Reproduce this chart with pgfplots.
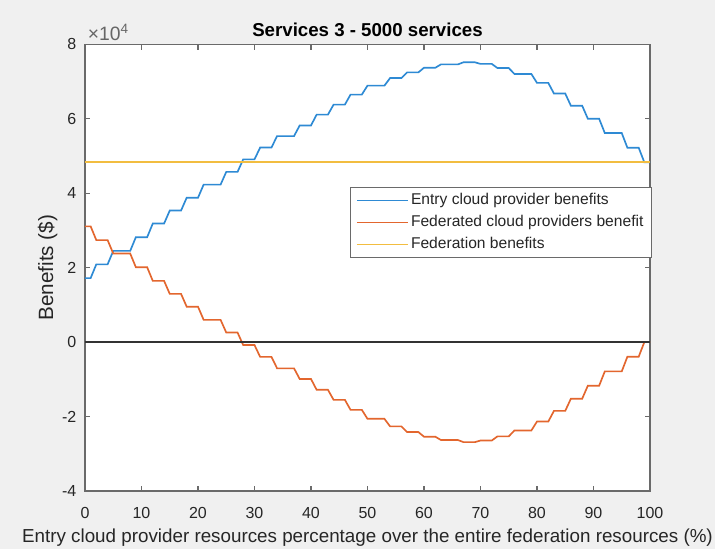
\documentclass[border=0pt]{standalone}
\usepackage{pgfplots}
\pgfplotsset{compat=1.18}
\usepackage{fontspec}
\setmainfont{Liberation Sans}
\definecolor{mblue}{rgb}{0.18,0.54,0.83}
\definecolor{morange}{rgb}{0.89,0.40,0.18}
\definecolor{myellow}{rgb}{0.95,0.74,0.25}
\definecolor{figbg}{HTML}{F0F0F0}
\definecolor{axgray}{HTML}{6A6A6A}
\definecolor{txtgray}{HTML}{262626}
\begin{document}
\begin{tikzpicture}
\fill[figbg] (-63.75pt,-43.5pt) rectangle (472.5pt,368.25pt);
\begin{axis}[
  scale only axis, width=423.75pt, height=335pt,
  clip mode=individual,
  xmin=0, xmax=100, ymin=-40000, ymax=80000,
  xtick={0,10,...,100},
  ytick={-40000,-20000,0,20000,40000,60000,80000},
  yticklabels={-4,-2,0,2,4,6,8},
  scaled y ticks=false,
  /pgf/number format/assume math mode=true,
  tick align=inside, tick pos=both, major tick length=4pt,
  axis background/.style={fill=white},
  axis line style={draw=axgray, line width=0.8pt},
  every tick/.style={draw=axgray, line width=0.8pt},
  tick label style={font=\fontsize{12}{14}\selectfont, text=txtgray},
  xticklabel style={yshift=-8.5pt},
  yticklabel style={xshift=-3pt},
  title={Services 3 - 5000 services},
  title style={font=\fontsize{14}{16}\selectfont\bfseries, at={(axis description cs:0.5,1)}, anchor=base, yshift=0.2pt},
  xlabel={Entry cloud provider resources percentage over the entire federation resources (\%)},
  xlabel style={font=\fontsize{14.1}{16}\selectfont, text=txtgray, at={(axis description cs:0.5,-0.104)}, anchor=center},
  ylabel={Benefits (\$)},
  ylabel style={font=\fontsize{15.5}{17}\selectfont, text=txtgray, at={(axis description cs:-0.066,0.5)}, anchor=center},
  legend style={at={(1.0035,0.68)}, anchor=north east, draw=axgray, line width=0.8pt, fill=white,
    font=\fontsize{11.7}{13}\selectfont, text=txtgray, inner xsep=4pt, inner ysep=3pt, row sep=3.5pt,
    nodes={inner ysep=1pt, text height=8.5pt, text depth=2.5pt}},
  legend cell align=left,
  legend image code/.code={\draw[#1, line width=1.2pt] (0pt,0pt) -- (38pt,0pt);},
]
\addplot[mblue, line width=1.25pt] coordinates {
(0,17200) (1,17200) (2,20890) (4,20890) (5,24500) (8,24500) (9,28180) (11,28180)
(12,31860) (14,31860) (15,35340) (17,35340) (18,38790) (20,38790) (21,42320) (24,42320)
(25,45730) (27,45730) (28,49090) (30,49090) (31,52270) (33,52270) (34,55350) (37,55350)
(38,58210) (40,58210) (41,61120) (43,61120) (44,63810) (46,63810) (47,66500) (49,66500)
(50,68910) (53,68910) (54,70940) (56,70940) (57,72460) (59,72460) (60,73710) (62,73710)
(63,74610) (66,74610) (67,75180) (69,75180) (70,74740) (72,74740) (73,73630) (75,73630)
(76,72050) (79,72050) (80,69640) (82,69640) (83,66780) (85,66780) (86,63500) (88,63500)
(89,60010) (91,60010) (92,56170) (95,56170) (96,52220) (98,52220) (99,48300) (100,48300)
};
\addlegendentry{Entry cloud provider benefits}
\addplot[morange, line width=1.25pt] coordinates {
(0,31100) (1,31100) (2,27410) (4,27410) (5,23800) (8,23800) (9,20120) (11,20120)
(12,16440) (14,16440) (15,12960) (17,12960) (18,9510) (20,9510) (21,5980) (24,5980)
(25,2570) (27,2570) (28,-790) (30,-790) (31,-3970) (33,-3970) (34,-7050) (37,-7050)
(38,-9910) (40,-9910) (41,-12820) (43,-12820) (44,-15510) (46,-15510) (47,-18200) (49,-18200)
(50,-20610) (53,-20610) (54,-22640) (56,-22640) (57,-24160) (59,-24160) (60,-25410) (62,-25410)
(63,-26310) (66,-26310) (67,-26880) (69,-26880) (70,-26440) (72,-26440) (73,-25330) (75,-25330)
(76,-23750) (79,-23750) (80,-21340) (82,-21340) (83,-18480) (85,-18480) (86,-15200) (88,-15200)
(89,-11710) (91,-11710) (92,-7870) (95,-7870) (96,-3920) (98,-3920) (99,0) (100,0)
};
\addlegendentry{Federated cloud providers benefit}
\addplot[myellow, line width=1.25pt] coordinates {(0,48300) (100,48300)};
\addlegendentry{Federation benefits}
\addplot[black!80, line width=1pt, forget plot] coordinates {(0,0) (100,0)};
\node[anchor=south west, inner sep=0pt, text=black!60]
  at (rel axis cs:0,1) [xshift=2pt, yshift=2.5pt] {\fontsize{14.5}{16}\selectfont ×10\textsuperscript{4}};
\end{axis}
\pgfresetboundingbox
\path[use as bounding box] (-63.75pt,-43.5pt) rectangle (472.5pt,368.25pt);
\end{tikzpicture}
\end{document}
